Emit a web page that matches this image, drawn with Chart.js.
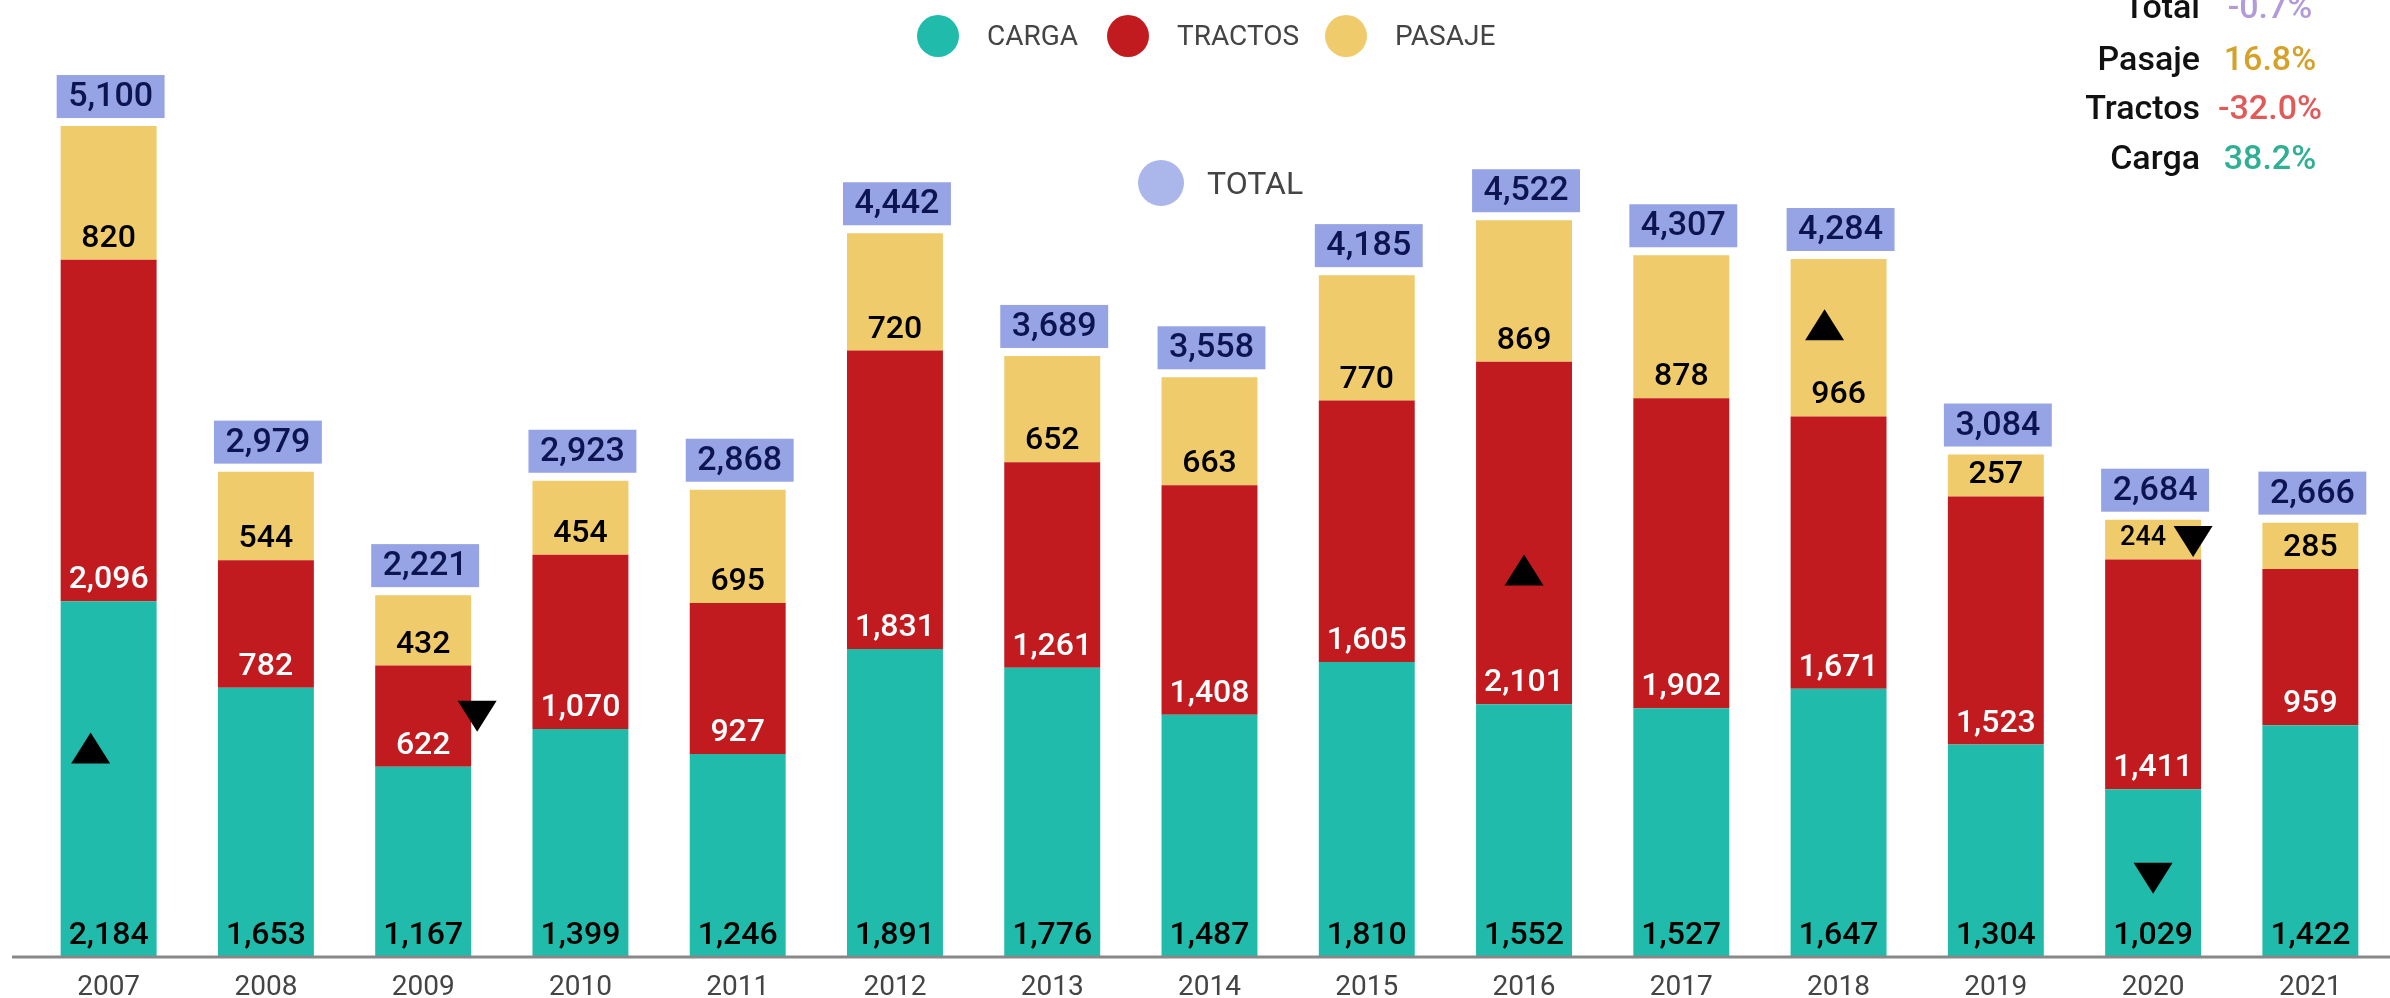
<!DOCTYPE html>
<html>
<head>
<meta charset="utf-8">
<script src="https://cdn.jsdelivr.net/npm/chart.js@4.4.1/dist/chart.umd.min.js"></script>
<style>
  body { margin: 0; background: #fff; font-family: Roboto, sans-serif; }
  #wrap { position: relative; width: 2390px; height: 998px; overflow: hidden; }
  .dot { position: absolute; border-radius: 50%; }
  .txt { position: absolute; white-space: nowrap; }
</style>
</head>
<body>
<div id="wrap">
  <canvas id="chart"></canvas>
  <div id="overlay"></div>
</div>
<script>
// data
const years = ["2007","2008","2009","2010","2011","2012","2013","2014","2015","2016","2017","2018","2019","2020","2021"];
const carga   = [2184, 1653, 1167, 1399, 1246, 1891, 1776, 1487, 1810, 1552, 1527, 1647, 1304, 1029, 1422];
const tractos = [2096,  782,  622, 1070,  927, 1831, 1261, 1408, 1605, 2101, 1902, 1671, 1523, 1411,  959];
const pasaje  = [ 820,  544,  432,  454,  695,  720,  652,  663,  770,  869,  878,  966,  257,  244,  285];
const totals  = [5100, 2979, 2221, 2923, 2868, 4442, 3689, 3558, 4185, 4522, 4307, 4284, 3084, 2684, 2666];

const seriesNames = ["CARGA", "TRACTOS", "PASAJE"];
const seriesColors = ["#20BBAA", "#C21B1F", "#EFCB6B"];
const labelColors = ["#000000", "#FFFFFF", "#000000"];
const series = [carga, tractos, pasaje];

const fmt = v => v.toLocaleString("en-US");

// small nudges for the max/min triangles (pixels), like in the original
const markerNudge = {
  "0max": [-18, -31], "0min": [0, 5],
  "1max": [0, 37],    "1min": [54, 0],
  "2max": [-14, -13], "2min": [40, 2]
};

const labelPlugin = {
  id: "barLabels",
  afterDatasetsDraw(chart) {
    const ctx = chart.ctx;
    ctx.save();
    ctx.textAlign = "center";
    ctx.textBaseline = "middle";

    // segment labels, sitting near the bottom of each segment
    series.forEach((vals, di) => {
      chart.getDatasetMeta(di).data.forEach((bar, i) => {
        const segH = bar.base - bar.y;
        const small = segH < 41;
        ctx.font = "500 " + (small ? 27 : 32) + "px Roboto";
        ctx.fillStyle = labelColors[di];
        ctx.fillText(fmt(vals[i]), bar.x + (small ? -10 : 0), bar.base - 21);
      });
    });

    // total boxes above the stacks
    chart.getDatasetMeta(3).data.forEach((pt, i) => {
      const txt = fmt(totals[i]);
      ctx.font = "500 34px Roboto";
      const w = ctx.measureText(txt).width + 23;
      const h = 43;
      const top = pt.y - 8 - h;
      ctx.fillStyle = "#96A3E4";
      ctx.fillRect(pt.x - w / 2 + 2, top, w, h);
      ctx.fillStyle = "#0D1452";
      ctx.fillText(txt, pt.x + 2, top + h / 2 + 1);
    });

    // max / min triangles for each series
    series.forEach((vals, di) => {
      const meta = chart.getDatasetMeta(di);
      const maxI = vals.indexOf(Math.max(...vals));
      const minI = vals.indexOf(Math.min(...vals));
      [["max", maxI], ["min", minI]].forEach(([kind, idx]) => {
        const bar = meta.data[idx];
        const nudge = markerNudge[di + kind];
        const cx = bar.x + nudge[0];
        const cy = (bar.y + bar.base) / 2 + nudge[1];
        ctx.fillStyle = "#000";
        ctx.beginPath();
        if (kind === "max") {
          ctx.moveTo(cx, cy - 15.5);
          ctx.lineTo(cx + 19.5, cy + 15.5);
          ctx.lineTo(cx - 19.5, cy + 15.5);
        } else {
          ctx.moveTo(cx - 19.5, cy - 15.5);
          ctx.lineTo(cx + 19.5, cy - 15.5);
          ctx.lineTo(cx, cy + 15.5);
        }
        ctx.closePath();
        ctx.fill();
      });
    });

    // baseline
    const y = chart.chartArea.bottom;
    ctx.strokeStyle = "#888888";
    ctx.lineWidth = 3;
    ctx.beginPath();
    ctx.moveTo(12, y);
    ctx.lineTo(chart.width, y);
    ctx.stroke();
    ctx.restore();
  }
};

new Chart(document.getElementById("chart"), {
  data: {
    labels: years,
    datasets: [
      ...series.map((vals, i) => ({
        type: "bar",
        label: seriesNames[i],
        data: vals,
        backgroundColor: seriesColors[i],
        borderWidth: 0,
        barPercentage: 0.61,
        categoryPercentage: 1.0
      })),
      {
        type: "line",
        label: "TOTAL",
        data: totals,
        showLine: false,
        pointRadius: 0,
        pointHoverRadius: 0
      }
    ]
  },
  options: {
    responsive: true,
    maintainAspectRatio: false,
    animation: false,
    layout: { padding: { left: 30, right: 1, top: 12, bottom: 0 } },
    plugins: { legend: { display: false }, tooltip: { enabled: false } },
    scales: {
      x: {
        stacked: true,
        grid: { display: false },
        border: { display: false },
        ticks: { color: "#444", font: { family: "Roboto", size: 28 }, padding: 6 },
        afterFit(scale) { scale.height = 41; }
      },
      y: {
        stacked: true,
        display: false,
        min: 0,
        max: 5800
      }
    }
  },
  plugins: [labelPlugin]
});

// legend and the year-on-year change notes (HTML text)
const overlay = document.getElementById("overlay");
function addDot(cx, cy, r, color) {
  const d = document.createElement("div");
  d.className = "dot";
  Object.assign(d.style, { left: (cx - r) + "px", top: (cy - r) + "px", width: 2 * r + "px", height: 2 * r + "px", background: color });
  overlay.appendChild(d);
}
function addText(str, x, cy, size, color, weight, align) {
  const t = document.createElement("div");
  t.className = "txt";
  t.textContent = str;
  const h = size * 1.4;
  Object.assign(t.style, { top: (cy - h / 2) + "px", height: h + "px", lineHeight: h + "px", fontSize: size + "px", color: color, fontWeight: weight });
  if (align === "right") { t.style.right = (2390 - x) + "px"; }
  else if (align === "center") { t.style.left = (x - 100) + "px"; t.style.width = "200px"; t.style.textAlign = "center"; }
  else { t.style.left = x + "px"; }
  overlay.appendChild(t);
}

const legendX = [938, 1128, 1346];
seriesNames.forEach((name, i) => {
  addDot(legendX[i], 36, 21, seriesColors[i]);
  addText(name, legendX[i] + 49, 36, 28, "#444", 400);
});
addDot(1161, 183, 23, "#ABB6EB");
addText("TOTAL", 1207, 183, 32, "#444", 400);

const last = years.length - 1;
const pct = (a) => ((a[last] / a[last - 1] - 1) * 100).toFixed(1) + "%";
const notes = [
  ["Total", pct(totals), "#B29BD8"],
  ["Pasaje", pct(pasaje), "#D4A12A"],
  ["Tractos", pct(tractos), "#E05A5A"],
  ["Carga", pct(carga), "#2FAF94"]
];
const noteY = [7, 59, 108, 158];
notes.forEach(([name, val, color], i) => {
  addText(name, 2200, noteY[i], 34, "#111", 500, "right");
  addText(val, 2270, noteY[i], 34, color, 500, "center");
});
</script>
</body>
</html>
